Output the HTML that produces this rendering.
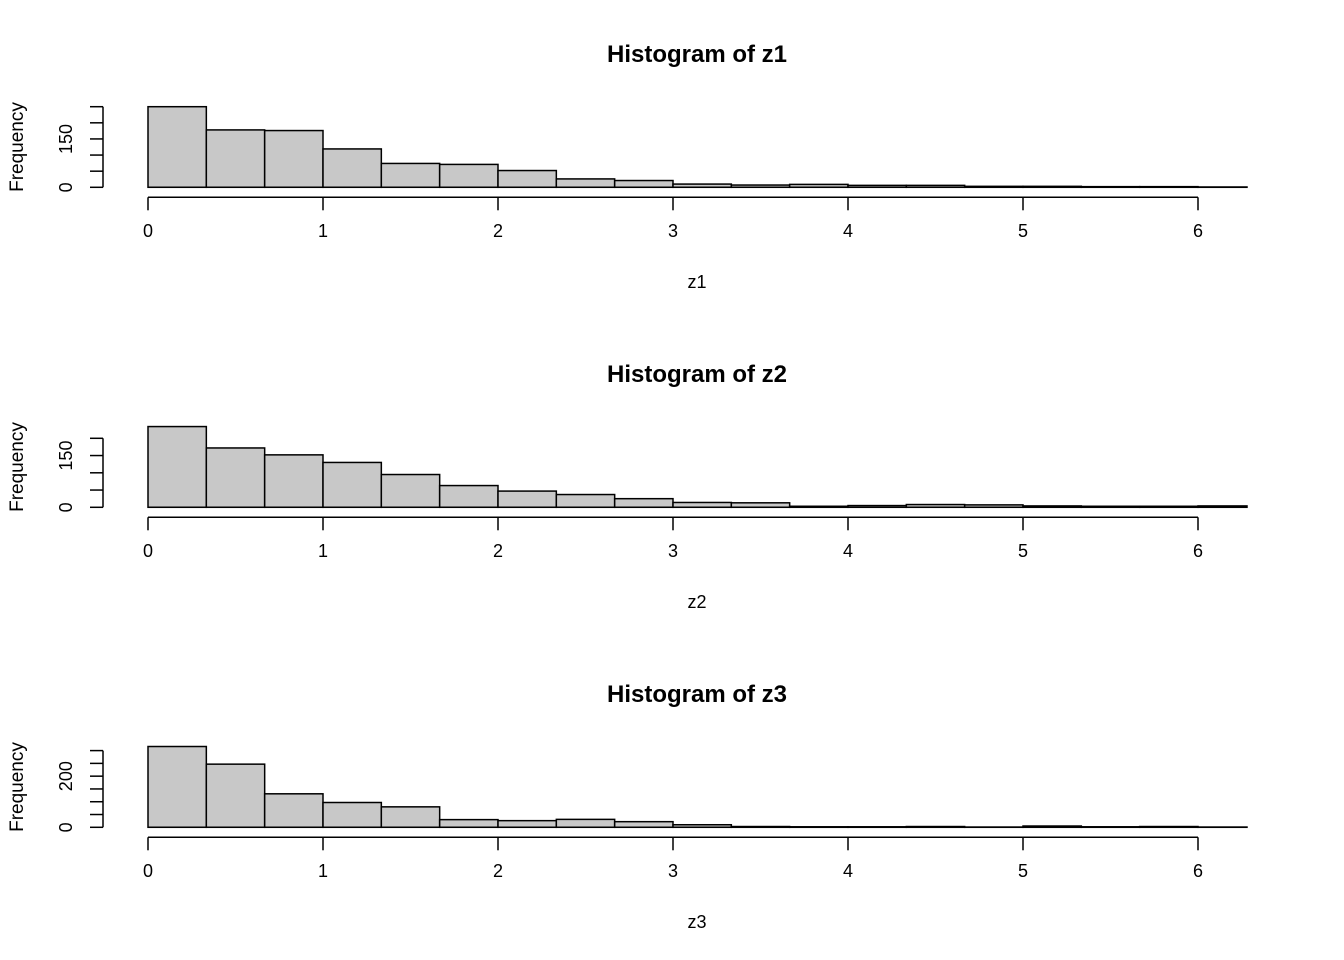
<!DOCTYPE html>
<html><head><meta charset="utf-8"><style>
html,body{margin:0;padding:0;background:#fff}
svg{display:block}
text{font-family:"Liberation Sans",Arial,sans-serif;fill:#000}
</style></head><body>
<svg id="chart" width="1344" height="960" viewBox="0 0 1344 960" xmlns="http://www.w3.org/2000/svg"></svg>
<script>
const binWidth = 1/3;
const xTicks = [0,1,2,3,4,5,6];
const z1Counts = [250,178,176,119,74,71,52,26,21,10,7,9,6,6,3,3,2,2,1];
const z2Counts = [234,172,152,130,95,63,47,37,25,14,13,3,5,8,7,4,3,3,4];
const z3Counts = [316,247,131,97,80,30,26,31,22,10,3,2,2,3,1,5,2,3,1];
const z1YTicks = [0,50,100,150,200,250];
const z2YTicks = [0,50,100,150,200];
const z3YTicks = [0,50,100,150,200,250,300];
const z1YLabels = ["0","150"];
const z2YLabels = ["0","150"];
const z3YLabels = ["0","200"];

const NS = "http://www.w3.org/2000/svg";
const svg = document.getElementById('chart');
function mk(tag, attrs, parent){
  const e = document.createElementNS(NS, tag);
  for (const k in attrs) e.setAttribute(k, attrs[k]);
  (parent||svg).appendChild(e);
  return e;
}
const xScale = v => 148 + v * 175;
const clipRight = 1247;

function panel(idx, name, counts, yTicks, yLabels, pxPerUnit){
  const off = idx * 320;
  const base = 187.3 + off;
  const yScale = v => base - v * pxPerUnit;
  const g = mk('g', {});
  
  

  const t = mk('text', {x: 697, y: 62 + off, 'text-anchor': 'middle', 'font-size': 24, 'font-weight': 'bold'}, g);
  t.textContent = 'Histogram of ' + name;
  
  

  const bars = mk('g', {}, g);
  
  
  counts.forEach((c, i) => {
    const x0 = xScale(i * binWidth);
    let x1 = xScale((i + 1) * binWidth);
    if (x1 > clipRight) x1 = clipRight;
    const r = mk('rect', {x: x0, y: yScale(c), width: x1 - x0, height: base - yScale(c), fill: '#c8c8c8', stroke: '#000', 'stroke-width': 1.5}, bars);
    
    
  });
  mk('line', {x1: xScale(0), x2: clipRight, y1: base, y2: base, stroke: '#000', 'stroke-width': 1.5}, g);

  const xa = mk('g', {}, g);
  
  
  const axY = base + 10;
  mk('line', {x1: xScale(xTicks[0]), x2: xScale(xTicks[xTicks.length-1]), y1: axY, y2: axY, stroke: '#000', 'stroke-width': 1.5}, xa);
  xTicks.forEach(v => {
    mk('line', {x1: xScale(v), x2: xScale(v), y1: axY, y2: axY + 13, stroke: '#000', 'stroke-width': 1.5}, xa);
    const l = mk('text', {x: xScale(v), y: 237 + off, 'text-anchor': 'middle', 'font-size': 18}, xa);
    l.textContent = String(v);
    
    
  });
  const xl = mk('text', {x: 697, y: 288 + off, 'text-anchor': 'middle', 'font-size': 18}, g);
  xl.textContent = name;
  
  

  const ya = mk('g', {}, g);
  
  
  mk('line', {x1: 103, x2: 103, y1: yScale(yTicks[0]), y2: yScale(yTicks[yTicks.length-1]), stroke: '#000', 'stroke-width': 1.5}, ya);
  yTicks.forEach(v => {
    mk('line', {x1: 90, x2: 103, y1: yScale(v), y2: yScale(v), stroke: '#000', 'stroke-width': 1.5}, ya);
  });
  yLabels.forEach(s => {
    const y = yScale(Number(s));
    const l = mk('text', {x: 72, y: y, 'text-anchor': 'middle', 'font-size': 18, transform: 'rotate(-90 72 ' + y + ')'}, ya);
    l.textContent = s;
    
    
  });
  const cy = 147 + off;
  const yl = mk('text', {x: 23, y: cy, 'text-anchor': 'middle', 'font-size': 19, transform: 'rotate(-90 23 ' + cy + ')'}, g);
  yl.textContent = 'Frequency';
  
  
}
panel(0, 'z1', z1Counts, z1YTicks, z1YLabels, 80.6/250);
panel(1, 'z2', z2Counts, z2YTicks, z2YLabels, 69/200);
panel(2, 'z3', z3Counts, z3YTicks, z3YLabels, 76.7/300);
</script>
</body></html>
